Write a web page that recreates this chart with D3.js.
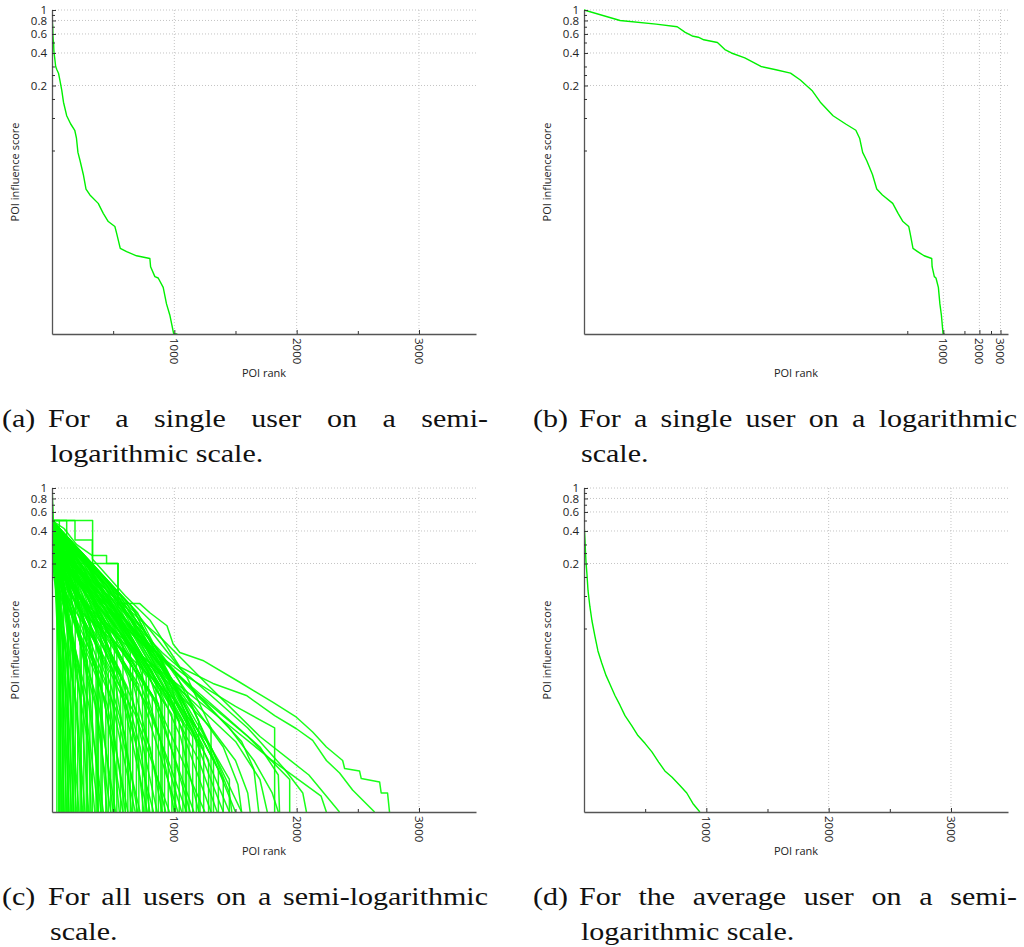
<!DOCTYPE html>
<html>
<head>
<meta charset="utf-8">
<script src="https://cdn.jsdelivr.net/npm/d3@7"></script>
<style>
  body { margin: 0; background: #fff; }
  svg { display: block; }
</style>
</head>
<body>
<svg id="fig" width="1024" height="947"></svg>
<script>
// ---- data: POI influence score by POI rank ----
const rankMax = 3466;
const scoreMin = 0.001;

// one user, [rank, score]
const singleUser = [
  [1,1],[2,0.8],[4,0.74],[6,0.7],[7,0.62],[8,0.575],[9,0.56],[10,0.53],[13,0.5],[15,0.43],
  [17,0.4],[22,0.36],[30,0.3],[40,0.28],[53,0.26],[64,0.225],[80,0.18],[94,0.14],[120,0.105],
  [153,0.088],[186,0.077],[200,0.065],[212,0.048],[230,0.04],[256,0.03],[278,0.022],[310,0.0194],
  [378,0.0162],[419,0.0131],[460,0.011],[514,0.0099],[528,0.0086],[558,0.0062],[610,0.0058],
  [691,0.0053],[800,0.005],[806,0.0042],[841,0.0034],[868,0.0033],[909,0.0027],[936,0.0019],
  [963,0.0015],[995,0.001],[1025,0.001]
];

// the average over all users
const averageUser = [
  [1,0.45],[4,0.4],[8,0.33],[12,0.26],[16,0.21],[24,0.16],[33,0.112],[48,0.08],[65,0.059],
  [90,0.042],[114,0.031],[145,0.024],[180,0.0184],[215,0.015],[253,0.012],[295,0.0097],
  [335,0.0078],[390,0.0063],[441,0.0051],[500,0.0043],[555,0.0036],[610,0.0029],[661,0.0024],
  [720,0.0021],[784,0.00176],[840,0.0015],[890,0.0012],[947,0.001]
];

// every user, one curve each
const allUsers = [
  [[1,0.5],[100,0.42],[200,0.3],[330,0.237],[446,0.237],[446,0.2],[541,0.2],[541,0.085],[718,0.085],[800,0.07],[940,0.053],[990,0.036],[1045,0.03],[1233,0.0253],[1535,0.0159],[1804,0.0104],[1998,0.00755],[2131,0.0055],[2243,0.004],[2376,0.003],[2392,0.00253],[2514,0.0024],[2528,0.00204],[2678,0.0019],[2691,0.0015],[2743,0.0015],[2759,0.001]],
  [[1,0.5],[188,0.5],[188,0.33],[330,0.33],[330,0.22],[600,0.1],[800,0.06],[1045,0.022],[1316,0.0155],[1589,0.012],[1820,0.0078],[1998,0.0059],[2131,0.0046],[2243,0.003],[2351,0.0023],[2457,0.0016],[2637,0.001]],
  [[1,0.3],[300,0.12],[700,0.04],[1100,0.018],[1500,0.0095],[1820,0.006],[1820,0.001]],
  [[1,0.35],[400,0.1],[800,0.035],[1200,0.012],[1600,0.005],[1943,0.002],[1943,0.001]],
  [[1,0.5],[332,0.5],[332,0.15],[500,0.1],[900,0.04],[1300,0.014],[1700,0.005],[2100,0.0022],[2350,0.001]],
  [[1,0.25],[300,0.1],[700,0.03],[1000,0.016],[1400,0.007],[1800,0.003],[2200,0.0014],[2243,0.001]],
  [[1,0.4],[200,0.2],[538,0.2],[538,0.08],[900,0.03],[1300,0.012],[1600,0.006],[1900,0.0025],[2050,0.0015],[2080,0.001]],
  [[1,0.3],[250,0.12],[600,0.05],[1000,0.02],[1400,0.008],[1700,0.004],[1850,0.0022],[1860,0.001]],
  [[1,0.2],[300,0.08],[700,0.03],[1100,0.012],[1500,0.0045],[1700,0.002],[1760,0.001]],
  [[1,0.5],[120,0.5],[120,0.25],[400,0.1],[750,0.04],[1100,0.015],[1450,0.006],[1650,0.003],[1800,0.0015],[1850,0.001]],
  [[1,0.3],[200,0.15],[500,0.07],[850,0.03],[1200,0.012],[1550,0.0045],[1650,0.0025],[1690,0.001]],
  [[1,0.22],[200,0.1],[500,0.045],[900,0.018],[1300,0.006],[1500,0.003],[1600,0.0015],[1620,0.001]],
  [[1,0.4],[150,0.2],[450,0.08],[800,0.03],[1150,0.01],[1400,0.004],[1520,0.0018],[1550,0.001]],
  [[1,0.18],[250,0.07],[600,0.03],[1000,0.011],[1300,0.004],[1450,0.0015],[1470,0.001]],
  [[1,1],[10,0.5],[30,0.1],[60,0.02],[80,0.001]],
  [[1,0.6],[15,0.3],[40,0.08],[70,0.015],[100,0.001]],
  [[1,0.5],[20,0.25],[50,0.06],[90,0.01],[120,0.001]],
  [[1,0.8],[25,0.2],[60,0.05],[110,0.006],[140,0.001]],
  [[1,0.5],[30,0.2],[70,0.06],[120,0.008],[160,0.001]],
  [[1,0.4],[30,0.18],[80,0.05],[140,0.006],[180,0.001]],
  [[1,0.5],[40,0.2],[90,0.06],[150,0.012],[200,0.001]],
  [[1,0.33],[35,0.15],[100,0.04],[170,0.006],[220,0.001]],
  [[1,0.5],[50,0.2],[120,0.05],[200,0.008],[250,0.001]],
  [[1,0.25],[40,0.12],[110,0.04],[200,0.01],[270,0.001]],
  [[1,0.5],[60,0.22],[140,0.06],[230,0.012],[300,0.001]],
  [[1,0.45],[50,0.2],[130,0.05],[240,0.01],[300,0.004],[320,0.001]],
  [[1,0.5],[70,0.2],[160,0.05],[260,0.012],[350,0.001]],
  [[1,0.3],[60,0.14],[150,0.05],[270,0.01],[380,0.001]],
  [[1,0.5],[80,0.25],[180,0.07],[300,0.015],[400,0.001]],
  [[1,0.2],[70,0.1],[170,0.04],[300,0.01],[420,0.001]],
  [[1,0.5],[90,0.2],[200,0.06],[330,0.015],[400,0.005],[450,0.001]],
  [[1,0.35],[80,0.15],[200,0.05],[350,0.01],[480,0.001]],
  [[1,0.5],[100,0.25],[220,0.08],[370,0.018],[500,0.001]],
  [[1,0.28],[90,0.12],[220,0.04],[380,0.01],[520,0.001]],
  [[1,0.5],[110,0.2],[240,0.07],[400,0.015],[500,0.004],[550,0.001]],
  [[1,0.4],[100,0.18],[250,0.05],[420,0.012],[580,0.001]],
  [[1,0.5],[120,0.22],[270,0.07],[440,0.018],[600,0.001]],
  [[1,0.22],[110,0.09],[260,0.035],[450,0.01],[620,0.001]],
  [[1,0.5],[130,0.2],[300,0.06],[480,0.015],[600,0.005],[650,0.001]],
  [[1,0.3],[120,0.14],[290,0.045],[480,0.012],[680,0.001]],
  [[1,0.5],[140,0.25],[320,0.07],[500,0.02],[700,0.001]],
  [[1,0.2],[150,0.08],[320,0.03],[520,0.009],[720,0.001]],
  [[1,0.5],[160,0.22],[340,0.07],[540,0.018],[680,0.005],[750,0.001]],
  [[1,0.36],[150,0.15],[350,0.05],[560,0.014],[780,0.001]],
  [[1,0.5],[170,0.2],[370,0.06],[580,0.016],[720,0.004],[800,0.001]],
  [[1,0.25],[160,0.1],[370,0.035],[600,0.01],[830,0.001]],
  [[1,0.5],[180,0.24],[390,0.07],[620,0.018],[860,0.001]],
  [[1,0.3],[190,0.12],[400,0.04],[640,0.012],[800,0.004],[900,0.001]],
  [[1,0.5],[200,0.2],[420,0.06],[660,0.016],[930,0.001]],
  [[1,0.18],[200,0.07],[420,0.028],[680,0.008],[960,0.001]],
  [[1,0.5],[210,0.22],[450,0.065],[700,0.018],[880,0.005],[1000,0.001]],
  [[1,0.33],[220,0.13],[460,0.045],[720,0.013],[1030,0.001]],
  [[1,0.5],[230,0.2],[480,0.06],[740,0.017],[1060,0.001]],
  [[1,0.24],[240,0.09],[500,0.033],[770,0.01],[950,0.003],[1100,0.001]],
  [[1,0.5],[250,0.22],[520,0.065],[800,0.018],[1130,0.001]],
  [[1,0.3],[260,0.11],[540,0.04],[820,0.012],[1160,0.001]],
  [[1,0.5],[280,0.2],[560,0.06],[850,0.016],[1050,0.005],[1200,0.001]],
  [[1,0.2],[280,0.08],[580,0.03],[880,0.009],[1250,0.001]],
  [[1,0.5],[300,0.2],[600,0.06],[920,0.016],[1300,0.001]],
  [[1,0.28],[320,0.1],[640,0.035],[960,0.01],[1200,0.003],[1350,0.001]],
  [[1,0.5],[340,0.18],[680,0.055],[1000,0.015],[1400,0.001]],
  [[1,0.4],[360,0.13],[700,0.045],[1050,0.012],[1450,0.001]],
  [[1,0.5],[380,0.17],[740,0.05],[1100,0.013],[1500,0.001]],
  [[1,0.3],[400,0.1],[780,0.035],[1150,0.009],[1550,0.001]],
  [[1,0.5],[60,0.5],[60,0.001]],
  [[1,0.3],[100,0.1],[150,0.05],[150,0.001]],
  [[1,0.5],[200,0.15],[260,0.06],[260,0.001]],
  [[1,0.4],[250,0.1],[380,0.03],[380,0.001]],
  [[1,0.5],[300,0.12],[500,0.025],[500,0.001]],
  [[1,0.25],[350,0.06],[620,0.014],[620,0.001]],
  [[1,0.5],[400,0.1],[700,0.025],[760,0.015],[760,0.001]],
  [[1,0.35],[450,0.08],[820,0.02],[900,0.01],[900,0.001]],
  [[1,0.5],[500,0.1],[900,0.025],[1000,0.012],[1000,0.001]],
  [[1,0.3],[550,0.07],[950,0.018],[1100,0.008],[1100,0.001]],
  [[1,0.45],[600,0.08],[1000,0.02],[1200,0.007],[1200,0.001]],
  [[1,0.5],[650,0.08],[1100,0.018],[1300,0.006],[1300,0.001]],
  [[1,0.5],[20,0.2],[40,0.12],[40,0.001]],
  [[1,0.33],[30,0.15],[55,0.08],[55,0.001]],
  [[1,0.5],[35,0.25],[70,0.1],[70,0.001]],
  [[1,0.25],[40,0.1],[85,0.04],[85,0.001]],
  [[1,0.5],[50,0.2],[95,0.12],[95,0.001]],
  [[1,0.2],[50,0.08],[110,0.03],[110,0.001]],
  [[1,0.5],[60,0.22],[125,0.09],[125,0.001]],
  [[1,0.4],[70,0.15],[135,0.05],[135,0.001]],
  [[1,0.5],[80,0.2],[165,0.07],[165,0.001]],
  [[1,0.3],[80,0.12],[175,0.03],[175,0.001]],
  [[1,0.5],[90,0.25],[190,0.1],[190,0.001]],
  [[1,0.22],[100,0.08],[210,0.02],[210,0.001]],
  [[1,0.5],[100,0.2],[230,0.07],[230,0.001]],
  [[1,0.35],[110,0.14],[240,0.04],[240,0.001]],
  [[1,0.5],[120,0.22],[280,0.05],[280,0.001]],
  [[1,0.28],[120,0.1],[290,0.025],[290,0.001]],
  [[1,0.5],[130,0.2],[310,0.06],[310,0.001]],
  [[1,0.4],[140,0.16],[330,0.035],[330,0.001]],
  [[1,0.5],[150,0.2],[360,0.05],[360,0.001]],
  [[1,0.2],[150,0.07],[370,0.02],[370,0.001]],
  [[1,0.5],[160,0.25],[400,0.06],[400,0.001]],
  [[1,0.3],[170,0.12],[410,0.03],[410,0.001]],
  [[1,0.5],[180,0.2],[440,0.05],[440,0.001]],
  [[1,0.25],[190,0.09],[460,0.02],[460,0.001]],
  [[1,0.5],[200,0.22],[480,0.045],[480,0.001]],
  [[1,0.4],[210,0.15],[510,0.035],[510,0.001]],
  [[1,0.5],[220,0.2],[530,0.04],[530,0.001]],
  [[1,0.3],[230,0.1],[560,0.02],[560,0.001]],
  [[1,0.5],[240,0.2],[580,0.035],[580,0.001]],
  [[1,0.2],[250,0.07],[600,0.015],[600,0.001]],
  [[1,0.5],[260,0.2],[640,0.03],[640,0.001]],
  [[1,0.35],[270,0.12],[660,0.022],[660,0.001]],
  [[1,0.5],[280,0.18],[690,0.028],[690,0.001]],
  [[1,0.25],[290,0.08],[710,0.015],[710,0.001]],
  [[1,0.5],[300,0.18],[740,0.022],[740,0.001]],
  [[1,0.4],[310,0.13],[770,0.018],[770,0.001]],
  [[1,0.5],[320,0.17],[790,0.02],[790,0.001]],
  [[1,0.3],[330,0.1],[820,0.012],[820,0.001]],
  [[1,0.5],[340,0.16],[850,0.015],[850,0.001]],
  [[1,0.22],[350,0.07],[870,0.01],[870,0.001]],
  [[1,0.5],[360,0.15],[890,0.014],[890,0.001]],
  [[1,0.35],[380,0.11],[920,0.01],[920,0.001]],
  [[1,0.5],[400,0.14],[950,0.012],[950,0.001]],
  [[1,0.28],[420,0.08],[980,0.008],[980,0.001]],
  [[1,0.5],[440,0.13],[1010,0.009],[1010,0.001]],
  [[1,0.4],[460,0.1],[1040,0.007],[1040,0.001]],
  [[1,0.5],[480,0.12],[1070,0.007],[1070,0.001]],
  [[1,0.3],[500,0.08],[1090,0.006],[1090,0.001]],
  [[1,0.5],[520,0.11],[1120,0.006],[1120,0.001]],
  [[1,0.24],[540,0.06],[1150,0.005],[1150,0.001]],
  [[1,0.5],[560,0.1],[1180,0.005],[1180,0.001]],
  [[1,0.36],[580,0.08],[1210,0.004],[1210,0.001]],
  [[1,0.5],[600,0.09],[1240,0.004],[1240,0.001]],
  [[1,0.3],[620,0.07],[1280,0.003],[1280,0.001]],
  [[1,0.5],[650,0.08],[1320,0.003],[1320,0.001]],
  [[1,0.4],[680,0.07],[1360,0.0025],[1360,0.001]],
  [[1,0.5],[700,0.07],[1400,0.002],[1400,0.001]],
  [[1,0.3],[740,0.05],[1450,0.002],[1450,0.001]]
];

// axis ticks
const scoreTicks = [1, 0.8, 0.6, 0.4, 0.2];
const scoreMinorTicks = [0.9, 0.7, 0.5, 0.3, 0.25, 0.15, 0.1, 0.05];
const rankTicks = [1000, 2000, 3000];
const rankMinorTicks = [500, 1500, 2500];

// texts
const xTitle = 'POI rank';
const yTitle = 'POI influence score';
const captionLabels = ['(a)', '(b)', '(c)', '(d)'];
const captionFirstLines = [
  'For a single user on a semi-',
  'For a single user on a logarithmic',
  'For all users on a semi-logarithmic',
  'For the average user on a semi-'
];
const captionSecondLines = ['logarithmic scale.', 'scale.', 'scale.', 'logarithmic scale.'];

// ---- layout ----
const svg = d3.select('#fig');
const plotW = 424, plotH = 324;
const panels = [
  { left: 52,  top: 10,  logX: false, series: [singleUser],  colLeft: 2,   colRight: 488 },
  { left: 584, top: 10,  logX: true,  series: [singleUser],  colLeft: 533, colRight: 1017 },
  { left: 52,  top: 488, logX: false, series: allUsers,      colLeft: 2,   colRight: 488 },
  { left: 584, top: 488, logX: false, series: [averageUser], colLeft: 533, colRight: 1017 }
];
const lineColor = '#00f000';
const tickFont = '"Open Sans", "DejaVu Sans", sans-serif';

panels.forEach((p, i) => {
  const g = svg.append('g');
  const x = (p.logX ? d3.scaleLog().domain([1, rankMax]) : d3.scaleLinear().domain([0, rankMax]))
    .range([p.left, p.left + plotW]);
  const y = d3.scaleLog().domain([scoreMin, 1]).range([p.top + plotH, p.top]);

  // dotted grid
  g.append('g').selectAll('line').data(scoreTicks).join('line')
    .attr('x1', p.left).attr('x2', p.left + plotW)
    .attr('y1', d => y(d)).attr('y2', d => y(d))
    .attr('stroke', '#bdbdbd').attr('stroke-width', 0.9).attr('stroke-dasharray', '1,2');
  g.append('g').selectAll('line').data(rankTicks).join('line')
    .attr('x1', d => x(d)).attr('x2', d => x(d))
    .attr('y1', p.top).attr('y2', p.top + plotH)
    .attr('stroke', '#bdbdbd').attr('stroke-width', 0.9).attr('stroke-dasharray', '1,2');

  // curves
  const many = p.series.length > 1;
  const clipId = 'clip' + i;
  svg.append('clipPath').attr('id', clipId).append('rect')
    .attr('x', p.left).attr('y', p.top - 1).attr('width', plotW).attr('height', plotH + 1);
  const line = d3.line().x(d => x(d[0])).y(d => y(d[1]));
  g.append('g').attr('clip-path', `url(#${clipId})`)
    .selectAll('path').data(p.series).join('path')
    .attr('d', line)
    .attr('fill', 'none')
    .attr('stroke', many ? '#00ff00' : lineColor)
    .attr('stroke-width', many ? 1.5 : 1.4)
    .attr('stroke-opacity', many ? 0.9 : 1)
    .attr('stroke-linejoin', 'round');

  // y axis
  g.append('g').attr('transform', `translate(${p.left},0)`)
    .call(d3.axisLeft(y).tickValues(scoreTicks).tickFormat(d3.format('~g'))
      .tickSize(-4).tickSizeOuter(0).tickPadding(5));
  g.append('g').attr('transform', `translate(${p.left},0)`)
    .call(d3.axisLeft(y).tickValues(scoreMinorTicks).tickFormat('').tickSize(-3).tickSizeOuter(0))
    .call(a => a.select('.domain').remove());

  // x axis
  const xAxis = g.append('g').attr('transform', `translate(0,${p.top + plotH})`)
    .call(d3.axisBottom(x).tickValues(rankTicks).tickFormat(d3.format('d'))
      .tickSize(-4).tickSizeOuter(0));
  xAxis.selectAll('.tick text')
    .attr('x', 0).attr('y', 0).attr('dy', null)
    .attr('transform', 'translate(0,4) rotate(90)')
    .attr('text-anchor', 'start')
    .attr('dominant-baseline', 'central');
  g.append('g').attr('transform', `translate(0,${p.top + plotH})`)
    .call(d3.axisBottom(x).tickValues(rankMinorTicks).tickFormat('').tickSize(-3).tickSizeOuter(0))
    .call(a => a.select('.domain').remove());

  g.selectAll('.domain').attr('stroke', '#555').attr('stroke-width', 1.3);
  g.selectAll('.tick line').attr('stroke', '#333');
  g.selectAll('.tick text').attr('fill', '#222')
    .style('font-family', tickFont).style('font-size', '11.5px');

  // axis titles
  g.append('text')
    .attr('x', p.left + plotW / 2).attr('y', p.top + plotH + 43)
    .attr('text-anchor', 'middle')
    .style('font-family', tickFont).style('font-size', '11px').attr('fill', '#222')
    .text(xTitle);
  g.append('text')
    .attr('transform', `translate(${p.left - 33},${p.top + plotH / 2}) rotate(-90)`)
    .attr('text-anchor', 'middle')
    .style('font-family', tickFont).style('font-size', '11px').attr('fill', '#222')
    .text(yTitle);

  // caption: hanging label, justified first line, indented second line
  const cap = svg.append('g')
    .style('font-family', '"Liberation Serif", "Times New Roman", serif')
    .style('font-size', '25px').attr('fill', '#111');
  const stretch = 1.2;
  const base1 = p.top + 417, base2 = p.top + 452;
  const indent = p.colLeft + 46;
  const put = (txt, xPos, yPos) => {
    const t = cap.append('text').attr('x', xPos).attr('y', yPos).text(txt);
    const w = t.node().getComputedTextLength() * stretch;
    t.attr('textLength', w).attr('lengthAdjust', 'spacingAndGlyphs');
    return { t, w };
  };
  put(captionLabels[i], p.colLeft, base1);
  const words = captionFirstLines[i].split(' ').map(wd => put(wd, 0, base1));
  const total = d3.sum(words, d => d.w);
  const gap = (p.colRight - indent - total) / (words.length - 1);
  let cx = indent;
  words.forEach(d => { d.t.attr('x', cx); cx += d.w + gap; });
  put(captionSecondLines[i], indent + 2, base2);
});
</script>
</body>
</html>
